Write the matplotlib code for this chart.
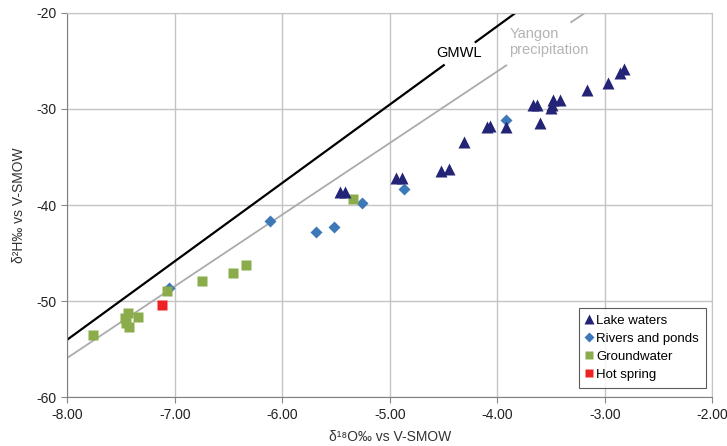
import numpy as np
import matplotlib
matplotlib.use('Agg')
import matplotlib.pyplot as plt

plt.rcParams['font.family'] = ['Liberation Sans', 'DejaVu Sans']

# lake waters
lake_x = [-5.46, -5.42, -4.94, -4.89, -4.52, -4.45, -4.31, -4.10, -4.07, -3.92,
          -3.60, -3.67, -3.63, -3.48, -3.49, -3.50, -3.42, -3.17, -2.97, -2.86, -2.82]
lake_y = [-38.6, -38.6, -37.2, -37.2, -36.5, -36.3, -33.4, -31.9, -31.8, -31.85,
          -31.5, -29.6, -29.6, -29.1, -29.6, -29.9, -29.1, -28.0, -27.3, -26.3, -25.9]
# rivers and ponds
river_x = [-7.05, -6.11, -5.69, -5.52, -5.26, -4.87, -3.92]
river_y = [-48.65, -41.7, -42.8, -42.25, -39.8, -38.3, -31.15]
# groundwater
ground_x = [-7.76, -7.435, -7.46, -7.45, -7.43, -7.34, -7.07, -6.75, -6.46, -6.34, -5.34]
ground_y = [-53.5, -51.25, -51.8, -52.3, -52.7, -51.7, -48.9, -47.9, -47.1, -46.2, -39.4]
# hot spring
hot_x = [-7.12]
hot_y = [-50.4]

# reference lines (as drawn): slope, intercept, and label gap in x
gmwl_slope, gmwl_icept = 8.15, 11.2
gmwl_gap = (-4.49, -4.21)
yangon_slope, yangon_icept = 7.45, 3.7
yangon_gap = (-3.91, -3.32)

fig = plt.figure(figsize=(7.27, 4.46), dpi=100)
ax = fig.add_axes([0.0926, 0.1092, 0.8872, 0.8623])

def draw_line(slope, icept, gap, **kw):
    x_top = (-20 - icept) / slope
    for xs in ([-8, gap[0]], [gap[1], x_top]):
        xs = np.array(xs)
        ax.plot(xs, slope * xs + icept, solid_capstyle='butt', **kw)

draw_line(gmwl_slope, gmwl_icept, gmwl_gap, color='black', lw=1.6, zorder=2)
draw_line(yangon_slope, yangon_icept, yangon_gap, color='#ababab', lw=1.3, zorder=2)

ax.text(-4.36, -24.2, 'GMWL', fontsize=10.5, color='black', ha='center', va='center')
ax.text(-3.89, -23.05, 'Yangon\nprecipitation', fontsize=10.5, color='#b4b4b4',
        ha='left', va='center', linespacing=1.25)

ax.plot(lake_x, lake_y, '^', color='#242477', ms=8.5, mec='none', label='Lake waters', zorder=4)
ax.plot(river_x, river_y, 'D', color='#3d79b8', ms=6.5, mec='none', label='Rivers and ponds', zorder=3)
ax.plot(ground_x, ground_y, 's', color='#8bac4b', ms=7.5, mec='none', label='Groundwater', zorder=3)
ax.plot(hot_x, hot_y, 's', color='#ee2222', ms=6.5, mec='none', label='Hot spring', zorder=3)

ax.set_xlim(-8, -2)
ax.set_ylim(-60, -20)
ax.set_xticks(np.arange(-8, -1.99, 1))
ax.set_yticks(np.arange(-60, -19.9, 10))
ax.set_xticklabels(['%.2f' % v for v in np.arange(-8, -1.99, 1)])
ax.set_yticklabels(['%d' % v for v in np.arange(-60, -19.9, 10)])
ax.tick_params(labelsize=10, colors='#222222', length=4, width=0.8)
ax.tick_params(axis='both', color='#888888')
ax.grid(True, color='#c4c4c4', lw=1.0)
ax.set_axisbelow(True)
for s in ['top', 'right']:
    ax.spines[s].set_color('#c4c4c4')
for s in ['left', 'bottom']:
    ax.spines[s].set_color('#808080')

ax.set_xlabel('δ¹⁸O‰ vs V-SMOW', fontsize=10, color='#333333', labelpad=6)
ax.set_ylabel('δ²H‰ vs V-SMOW', fontsize=10, color='#333333', labelpad=8)

leg = ax.legend(loc='lower right', bbox_to_anchor=(0.9898, 0.025), borderaxespad=0,
                fancybox=False, edgecolor='#333333', fontsize=9.5, handlelength=0.6,
                handletextpad=0.25, labelspacing=0.45, borderpad=0.5, markerscale=0.8)
leg.get_frame().set_linewidth(0.8)

fig.savefig('out.png', dpi=100)
